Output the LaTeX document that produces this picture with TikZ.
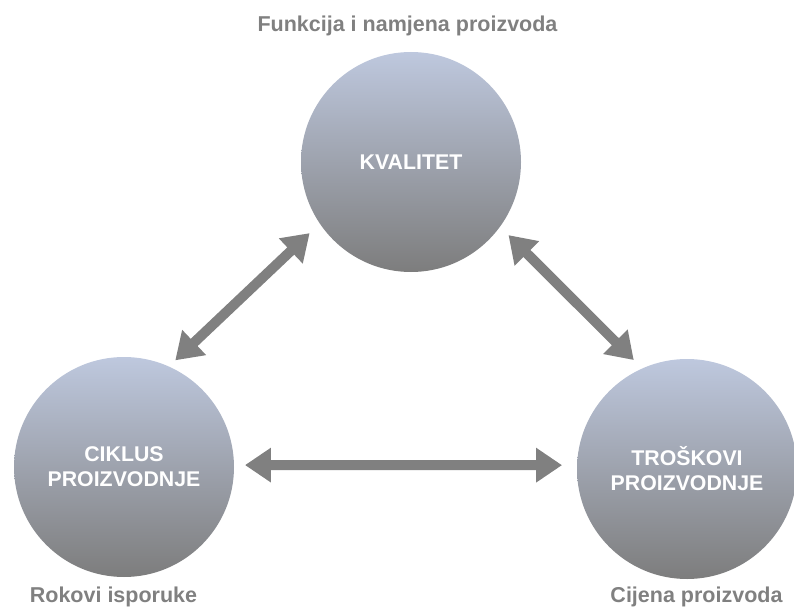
\documentclass[tikz,border=0pt]{standalone}
\usepackage{fontspec}
\setmainfont{Liberation Sans}
\usetikzlibrary{arrows.meta}
\definecolor{ctop}{RGB}{190,200,222}
\definecolor{cbot}{RGB}{125,125,125}
\definecolor{agray}{RGB}{128,128,128}
\tikzset{
  ball/.style={circle, minimum size=220pt, inner sep=0pt, outer sep=0pt,
    top color=ctop, bottom color=cbot, text=white, align=center,
    font=\fontsize{21.3}{25}\selectfont\bfseries},
  lbl/.style={anchor=base, text=agray, inner sep=0pt,
    font=\fontsize{21.5}{25}\selectfont\bfseries},
  dbl/.style={draw=agray, line width=10pt,
    {Triangle[length=26pt,width=33pt]}-{Triangle[length=26pt,width=33pt]}}
}
\begin{document}
\begin{tikzpicture}[x=1pt,y=-1pt]
\useasboundingbox (0,0) rectangle (794,612);
\node[ball] (top) at (411,162) {KVALITET};
\node[ball] (left) at (124,467) {CIKLUS\\PROIZVODNJE};
\node[ball] (right) at (687,469) {TROŠKOVI\\PROIZVODNJE};
\node[lbl] (l1) at (407.5,32) {Funkcija i namjena proizvoda};
\node[lbl] (l2) at (113.5,602) {Rokovi isporuke};
\node[lbl] (l3) at (696.5,602) {Cijena proizvoda};
\draw[dbl, shorten <=14pt, shorten >=9pt] (top.214.6) -- (left.66);
\draw[dbl, shorten <=12pt, shorten >=12pt] (top.324.4) -- (right.114);
\draw[dbl, shorten <=11pt, shorten >=15pt] (left.1) -- (right.178);
\end{tikzpicture}
\end{document}
